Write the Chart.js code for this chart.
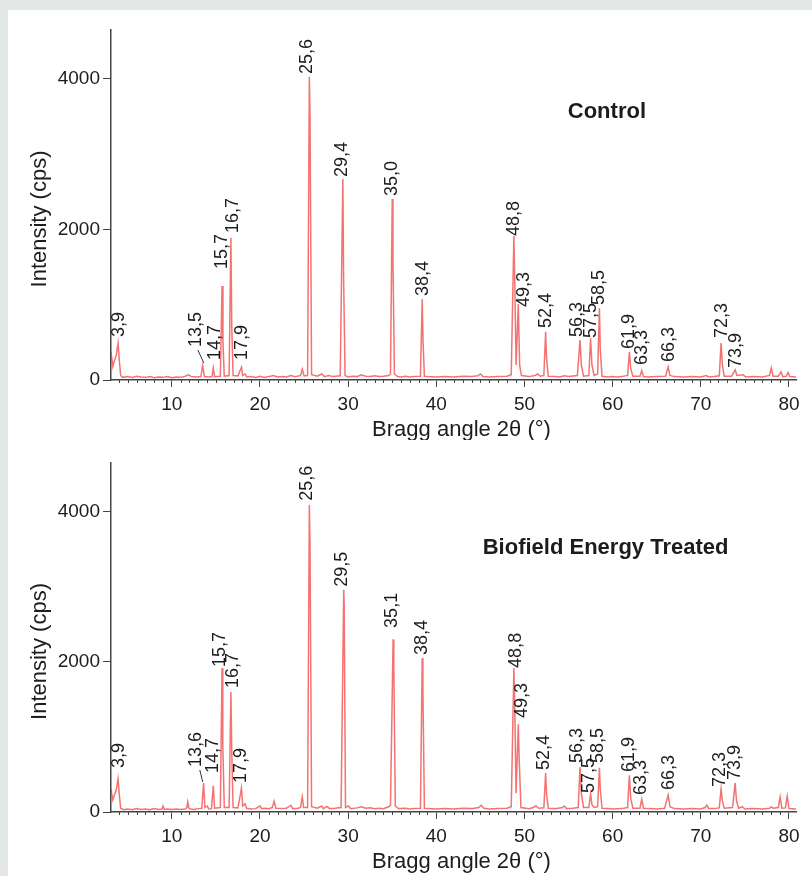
<!DOCTYPE html>
<html>
<head>
<meta charset="utf-8">
<script src="https://cdn.jsdelivr.net/npm/chart.js@4.4.1/dist/chart.umd.min.js"></script>
<style>
  body { margin: 0; background: #e4e7e8; }
  #panel { position: absolute; left: 8px; top: 10px; width: 804px; height: 866px; background: #fff; }
  canvas { position: absolute; left: 0; }
</style>
</head>
<body>
<div id="panel">
  <canvas id="control-chart" width="804" height="430" style="top:0"></canvas>
  <canvas id="treated-chart" width="804" height="436" style="top:430px"></canvas>
</div>
<script>
// axis ticks
const angleTicks = [10, 20, 30, 40, 50, 60, 70, 80];
const countTicks = [0, 2000, 4000];

// Control pattern
const controlAngle = [3.1, 3.3, 3.5, 3.7, 3.9, 4.05, 4.2, 4.4, 5, 5.5, 6, 6.5, 7, 7.5, 8, 8.5, 9, 9.5, 10, 10.5, 11, 11.5, 11.9, 12.2, 12.8, 13.3, 13.5, 13.7, 14.2, 14.55, 14.7, 14.85, 15.5, 15.7, 15.8, 15.95, 16.5, 16.7, 16.8, 16.95, 17.5, 17.9, 18.05, 18.3, 18.5, 19, 19.5, 20, 20.5, 21, 21.5, 22, 22.5, 23, 23.5, 24, 24.6, 24.8, 25.0, 25.4, 25.6, 25.68, 25.85, 26.5, 27, 27.3, 27.8, 28.3, 29.1, 29.4, 29.48, 29.65, 30, 30.5, 31, 31.5, 32, 32.5, 33, 33.5, 34, 34.6, 34.8, 35.0, 35.08, 35.25, 35.6, 36, 36.5, 37, 37.5, 38.2, 38.4, 38.5, 38.65, 39, 40, 41, 42, 43, 44, 44.7, 45, 45.3, 46, 47, 48, 48.5, 48.8, 48.9, 49.05, 49.3, 49.45, 49.65, 50.5, 51.2, 51.5, 51.8, 52.2, 52.4, 52.5, 52.7, 53.5, 54, 54.5, 55, 56, 56.3, 56.45, 56.7, 57.3, 57.5, 57.65, 57.9, 58.3, 58.5, 58.6, 58.8, 59.5, 60, 60.5, 61, 61.7, 61.9, 62.05, 62.3, 63.1, 63.3, 63.5, 64, 65, 66, 66.3, 66.5, 67, 68, 69, 70, 70.6, 70.9, 71.5, 72.1, 72.3, 72.45, 72.65, 73.5, 73.9, 74.1, 74.8, 75.1, 76, 77, 77.8, 78, 78.2, 78.8, 79.1, 79.3, 79.7, 79.9, 80.1, 80.8];
const controlCounts = [380, 180, 260, 330, 490, 250, 60, 35, 45, 35, 50, 40, 35, 45, 30, 40, 35, 45, 30, 40, 35, 50, 70, 45, 40, 45, 190, 45, 40, 45, 160, 45, 50, 1250, 500, 50, 60, 1890, 700, 60, 55, 170, 60, 80, 40, 45, 35, 50, 35, 45, 60, 40, 45, 40, 60, 45, 60, 145, 55, 60, 4030, 3450, 70, 50, 80, 45, 60, 45, 55, 2670, 1400, 60, 40, 50, 45, 70, 50, 45, 55, 45, 50, 60, 80, 2405, 1600, 80, 45, 40, 50, 40, 45, 50, 1076, 500, 50, 45, 40, 45, 40, 50, 45, 55, 80, 45, 40, 45, 50, 70, 1914, 1300, 200, 1010, 200, 60, 45, 60, 80, 50, 60, 640, 300, 50, 45, 40, 55, 45, 60, 530, 200, 50, 60, 555, 200, 60, 80, 955, 400, 50, 40, 45, 40, 45, 60, 375, 150, 50, 50, 125, 45, 40, 45, 50, 175, 60, 45, 40, 45, 40, 60, 40, 45, 55, 490, 200, 50, 50, 135, 60, 70, 40, 45, 40, 60, 160, 50, 50, 110, 45, 50, 100, 45, 40];
const controlLabels = ["3,9", "13,5", "14,7", "15,7", "16,7", "17,9", "25,6", "29,4", "35,0", "38,4", "48,8", "49,3", "52,4", "56,3", "57,5", "58,5", "61,9", "63,3", "66,3", "72,3", "73,9"];
const controlLabelAngle = [3.98, 12.72, 14.87, 15.67, 16.92, 17.94, 25.31, 29.28, 34.96, 38.47, 48.8, 49.93, 52.43, 55.95, 57.53, 58.44, 61.85, 63.32, 66.38, 72.4, 73.98];
const controlLabelCounts = [571, 439, 266, 1475, 1953, 266, 4066, 2698, 2445, 1116, 1914, 970, 691, 571, 558, 997, 412, 199, 239, 558, 160];

// Biofield Energy Treated pattern
const treatedAngle = [3.1, 3.3, 3.5, 3.7, 3.9, 4.05, 4.2, 4.5, 5, 5.5, 6, 6.5, 7, 7.5, 8, 8.5, 8.9, 9.0, 9.15, 9.5, 10, 10.5, 11, 11.5, 11.7, 11.8, 11.95, 12.5, 13.0, 13.4, 13.6, 13.75, 14.0, 14.2, 14.5, 14.7, 14.85, 15.5, 15.7, 15.78, 15.95, 16.5, 16.7, 16.8, 16.95, 17.5, 17.9, 18.05, 18.3, 18.5, 19, 19.5, 20, 20.2, 20.5, 21, 21.4, 21.6, 21.8, 22.5, 23, 23.5, 23.7, 24.3, 24.6, 24.8, 24.95, 25.4, 25.6, 25.68, 25.85, 26.5, 27, 27.2, 27.6, 27.9, 28.5, 29.2, 29.5, 29.55, 29.7, 30, 30.3, 31, 31.5, 32, 32.5, 33, 33.5, 34, 34.6, 34.8, 35.1, 35.18, 35.35, 35.7, 36.5, 37, 37.5, 38.2, 38.4, 38.48, 38.65, 39, 40, 41, 42, 43, 44, 44.8, 45.1, 45.4, 46, 47, 48, 48.5, 48.8, 48.9, 49.05, 49.3, 49.4, 49.6, 50.5, 51, 51.3, 51.6, 52.2, 52.4, 52.5, 52.7, 53.5, 54.3, 54.5, 54.8, 55.5, 56.1, 56.3, 56.45, 56.7, 57.3, 57.5, 57.65, 57.9, 58.3, 58.5, 58.6, 58.8, 59.5, 60, 61, 61.7, 61.9, 62.05, 62.3, 63.1, 63.3, 63.5, 64, 65, 65.9, 66.3, 66.5, 67, 68, 69, 70, 70.5, 70.7, 70.9, 71.5, 72.1, 72.3, 72.45, 72.65, 73.6, 73.9, 74.05, 74.3, 74.7, 75, 76, 77, 77.8, 78, 78.2, 78.8, 79.0, 79.2, 79.6, 79.8, 80.0, 80.8];
const treatedCounts = [300, 160, 230, 300, 440, 220, 50, 30, 40, 30, 45, 35, 40, 30, 45, 35, 40, 80, 35, 40, 35, 40, 35, 40, 60, 135, 45, 35, 45, 50, 385, 60, 80, 40, 45, 350, 50, 60, 1920, 900, 60, 60, 1600, 800, 60, 55, 320, 80, 110, 50, 40, 45, 80, 45, 50, 45, 60, 145, 50, 45, 50, 90, 45, 50, 60, 200, 60, 60, 4090, 3500, 70, 50, 80, 45, 75, 45, 50, 60, 2960, 2750, 60, 80, 45, 55, 70, 50, 55, 45, 50, 45, 70, 90, 2300, 1950, 80, 45, 50, 40, 45, 50, 2050, 1600, 50, 45, 40, 45, 40, 50, 45, 60, 90, 50, 40, 45, 50, 70, 1920, 1400, 250, 1170, 700, 60, 45, 60, 80, 50, 55, 520, 250, 50, 45, 60, 80, 45, 50, 60, 600, 250, 60, 60, 240, 100, 60, 70, 590, 300, 50, 45, 40, 45, 60, 490, 180, 50, 50, 170, 50, 45, 40, 50, 225, 70, 45, 40, 45, 40, 60, 90, 45, 45, 55, 305, 150, 50, 60, 385, 150, 50, 70, 40, 45, 40, 50, 70, 50, 60, 200, 50, 55, 210, 45, 40];
const treatedLabels = ["3,9", "13,6", "14,7", "15,7", "16,7", "17,9", "25,6", "29,5", "35,1", "38,4", "48,8", "49,3", "52,4", "56,3", "57,5", "58,5", "61,9", "63,3", "66,3", "72,3", "73,9"];
const treatedLabelAngle = [3.98, 12.72, 14.65, 15.44, 16.9, 17.8, 25.31, 29.28, 34.96, 38.36, 49.0, 49.67, 52.2, 55.98, 57.3, 58.4, 61.88, 63.17, 66.38, 72.17, 73.87];
const treatedLabelCounts = [587, 600, 520, 1933, 1653, 387, 4147, 3000, 2453, 2093, 1920, 1253, 560, 653, 253, 653, 533, 227, 293, 333, 427];

const FONT = "'Liberation Sans', Arial, sans-serif";
const INK = '#1c1c1c';
const AXIS = '#444';

// draws peak labels, titles, axis titles and the small minor ticks
const xrdDecor = {
    id: 'xrdDecor',
    afterDraw(chart, args, o) {
        const c = chart.ctx;
        const x = chart.scales.x, y = chart.scales.y;
        const a = chart.chartArea;
        c.save();
        // minor ticks every degree
        c.strokeStyle = AXIS;
        c.lineWidth = 1;
        for (let v = 4; v <= 80; v++) {
            if (v % 10 === 0) continue;
            const px = Math.round(x.getPixelForValue(v)) + 0.5;
            c.beginPath();
            c.moveTo(px, a.bottom);
            c.lineTo(px, a.bottom + 3);
            c.stroke();
        }
        // leader line for the crowded 13.x peak
        c.strokeStyle = '#333';
        c.beginPath();
        c.moveTo(x.getPixelForValue(o.leader[0]), y.getPixelForValue(o.leader[1]));
        c.lineTo(x.getPixelForValue(o.leader[2]), y.getPixelForValue(o.leader[3]));
        c.stroke();
        // rotated peak labels
        c.fillStyle = INK;
        c.font = '18px ' + FONT;
        c.textAlign = 'left';
        c.textBaseline = 'middle';
        o.labels.forEach((t, i) => {
            c.save();
            c.translate(x.getPixelForValue(o.labelAngle[i]), y.getPixelForValue(o.labelCounts[i]));
            c.rotate(-Math.PI / 2);
            c.fillText(t, 0, 0);
            c.restore();
        });
        // panel title
        c.font = 'bold 22px ' + FONT;
        c.textAlign = 'center';
        c.fillText(o.title, x.getPixelForValue(o.titleAt[0]), y.getPixelForValue(o.titleAt[1]));
        // axis titles
        c.font = '22px ' + FONT;
        c.fillText('Bragg angle 2\u03b8 (\u00b0)', (a.left + a.right) / 2 + 8, a.bottom + 50);
        c.save();
        c.translate(32, (a.top + a.bottom) / 2 + 14);
        c.rotate(-Math.PI / 2);
        c.fillText('Intensity (cps)', 0, 0);
        c.restore();
        c.restore();
    }
};

function makeChart(id, angle, counts, labels, labelAngle, labelCounts, leader, title, titleAt, padTop, xHeight) {
    const ctx = document.getElementById(id).getContext('2d');
    return new Chart(ctx, {
        type: 'line',
        data: {
            datasets: [{
                data: angle.map((a, i) => ({ x: a, y: counts[i] })),
                borderColor: 'rgba(240,60,60,0.72)',
                borderWidth: 1.5,
                pointRadius: 0,
                tension: 0,
                fill: false
            }]
        },
        options: {
            responsive: false,
            animation: false,
            layout: { padding: { left: 0, right: 16, top: padTop, bottom: 0 } },
            plugins: {
                legend: { display: false },
                tooltip: { enabled: false },
                xrdDecor: { labels, labelAngle, labelCounts, leader, title, titleAt }
            },
            scales: {
                x: {
                    type: 'linear',
                    min: 3.1,
                    max: 80.8,
                    grid: { drawOnChartArea: false, tickLength: 7, color: AXIS },
                    border: { color: AXIS, width: 1.5 },
                    ticks: { padding: 6, maxRotation: 0, color: INK, font: { family: FONT, size: 19 }, callback: (v) => String(v) },
                    afterBuildTicks: (s) => { s.ticks = angleTicks.map(v => ({ value: v })); },
                    afterFit: (s) => { s.height = xHeight; }
                },
                y: {
                    min: 0,
                    max: 4650,
                    grid: { drawOnChartArea: false, tickLength: 8, color: AXIS },
                    border: { color: AXIS, width: 1.5 },
                    ticks: { padding: 3, color: INK, font: { family: FONT, size: 19 }, callback: (v) => String(v) },
                    afterBuildTicks: (s) => { s.ticks = countTicks.map(v => ({ value: v })); },
                    afterFit: (s) => { s.width = 103; }
                }
            }
        },
        plugins: [xrdDecor]
    });
}

makeChart('control-chart', controlAngle, controlCounts, controlLabels, controlLabelAngle, controlLabelCounts,
    [12.95, 399, 13.63, 226], 'Control', [59.35, 3561], 20, 60);
makeChart('treated-chart', treatedAngle, treatedCounts, treatedLabels, treatedLabelAngle, treatedLabelCounts,
    [13.17, 560, 13.51, 400], 'Biofield Energy Treated', [59.2, 3520], 23, 64);
</script>
</body>
</html>
